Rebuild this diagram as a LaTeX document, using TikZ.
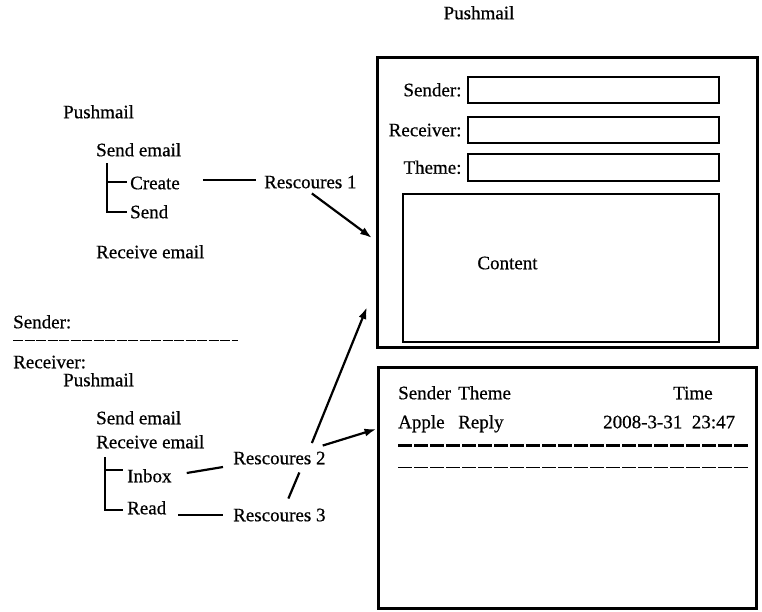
\documentclass[tikz,border=0pt]{standalone}
\usepackage{fontspec}
\setmainfont{Liberation Serif}[FakeBold=0.6]
\usetikzlibrary{arrows.meta,calc}
\begin{document}
\begin{tikzpicture}[x=1pt,y=-1pt,
 txt/.style={inner sep=0pt, text height=12.5pt, text depth=0pt, font=\fontsize{19}{22}\selectfont},
 lbl/.style={txt,anchor=west},
 frame/.style={draw, line width=3pt, inner sep=0pt},
 field/.style={draw, line width=2.6pt, inner sep=0pt},
 conn/.style={line width=2.2pt},
 arr/.style={line width=2.2pt, -{Latex[length=12pt,width=8pt]}},
 tree/.style={line width=2.2pt},
 dashline/.style={line width=1.5pt, dash pattern=on 10pt off 1.5pt},
 dashthick/.style={line width=2.6pt, dash pattern=on 14pt off 2pt}]
\useasboundingbox (0,0) rectangle (762,612);

% title
\node[txt] (title) at (479,13) {Pushmail};

% upper-left tree
\node[lbl] (pm1) at (63,112) {Pushmail};
\node[lbl] (se1) at (96,150) {Send email};
\node[lbl] (create) at (130,183) {Create};
\node[lbl] (send) at (130,212) {Send};
\node[lbl] (re1) at (96,252) {Receive email};
\node[lbl] (r1) at (264,182) {Rescoures 1};
\coordinate (t1) at ([xshift=11pt,yshift=-7pt]se1.south west);
\draw[tree] (t1) |- ([xshift=-3pt,yshift=1pt]create.west);
\draw[tree] (t1) |- ([xshift=-3pt]send.west);
\draw[conn] ([xshift=23pt,yshift=3pt]create.east) -- ([xshift=-8pt,yshift=2pt]r1.west);

% sender / receiver block
\node[lbl] (sndr) at (13,322) {Sender:};
\coordinate (dl) at ([yshift=-12pt]sndr.south west);
\draw[dashline] (dl) -- ++(225,0);
\node[lbl] (rcvr) at (13,362) {Receiver:};

% lower-left tree
\node[lbl] (pm2) at (63,380) {Pushmail};
\node[lbl] (se2) at (96,418) {Send email};
\node[lbl] (re2) at (96,442) {Receive email};
\node[lbl] (inbox) at (127,476) {Inbox};
\node[lbl] (read) at (127,508) {Read};
\node[lbl] (r2) at (233,458) {Rescoures 2};
\node[lbl] (r3) at (233,515) {Rescoures 3};
\coordinate (t2) at ([xshift=9pt,yshift=-9pt]re2.south west);
\draw[tree] (t2) |- ([xshift=-4pt,yshift=6pt]inbox.west);
\draw[tree] (t2) |- ([xshift=-4pt,yshift=-2pt]read.west);
\draw[conn] ([xshift=15pt,yshift=3pt]inbox.east) -- ([xshift=-10pt,yshift=-9pt]r2.west);
\draw[conn] ([xshift=12pt,yshift=-7pt]read.east) -- ([xshift=-10pt]r3.west);
\draw[conn] ([xshift=9pt,yshift=10pt]r3.north) -- ([xshift=20pt,yshift=-8pt]r2.south);

% upper-right window
\node[frame, minimum width=380pt, minimum height=289pt] (upbox) at (567,202.5) {};
\node[field, minimum width=251pt, minimum height=26pt] (fsender) at (593.5,90) {};
\node[field, minimum width=251pt, minimum height=26pt] (freceiver) at (593.5,130) {};
\node[field, minimum width=251pt, minimum height=27pt] (ftheme) at (593.5,167.5) {};
\node[field, minimum width=316pt, minimum height=148pt] (fcontent) at (561,268) {};
\node[txt,anchor=east] (lsender) at ([xshift=-5pt]fsender.west) {Sender:};
\node[txt,anchor=east] (lreceiver) at ([xshift=-5pt]freceiver.west) {Receiver:};
\node[txt,anchor=east] (ltheme) at ([xshift=-5pt]ftheme.west) {Theme:};
\node[txt] (content) at (507.5,263) {Content};

% lower-right window
\node[frame, minimum width=378pt, minimum height=241pt] (lowbox) at (567,487.5) {};
\node[lbl] (hsender) at (398,393) {Sender};
\node[lbl] (htheme) at (458,393) {Theme};
\node[lbl] (htime) at (673,393) {Time};
\node[lbl] (apple) at (398,422) {Apple};
\node[lbl] (reply) at (458,422) {Reply};
\node[lbl] (date) at (603,422) {2008-3-31\ \ 23:47};
\coordinate (d1) at ([yshift=-17pt]apple.south west);
\draw[dashthick] (d1) -- ++(350,0);
\coordinate (d2) at ([yshift=-39pt]apple.south west);
\draw[dashline, line width=1.8pt, dash pattern=on 14pt off 2pt] (d2) -- ++(350,0);

% arrows
\coordinate (a1end) at (372,238);
\coordinate (a2end) at (367,307);
\draw[arr] ([xshift=1.5pt,yshift=-5pt]r1.south) -- (a1end);
\draw[arr] ([xshift=32.5pt,yshift=8.5pt]r2.north) -- (a2end);
\draw[arr] ([xshift=-3pt,yshift=6pt]r2.north east) -- ($(lowbox.north west)!0.26!(lowbox.south west)$);
\end{tikzpicture}
\end{document}
